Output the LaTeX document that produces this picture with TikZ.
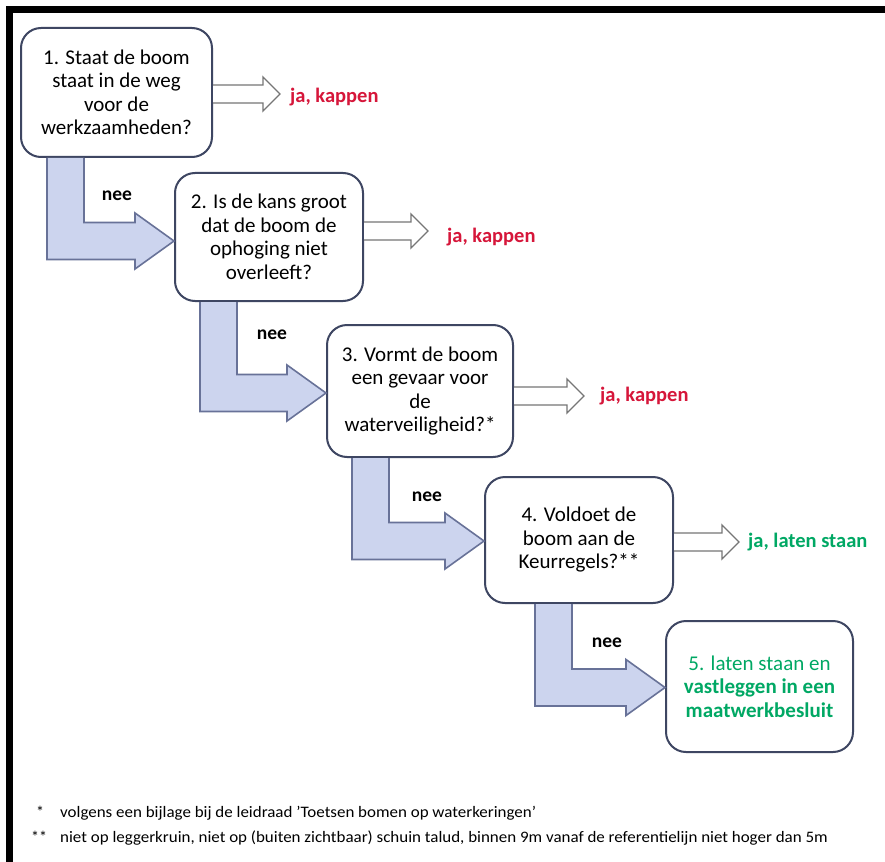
\documentclass[tikz,border=0pt]{standalone}
\usepackage{fontspec}
\setmainfont{Carlito}
\usetikzlibrary{calc}
\definecolor{boxline}{RGB}{62,70,98}
\definecolor{flowfill}{RGB}{204,212,238}
\definecolor{flowline}{RGB}{104,114,152}
\definecolor{hollowline}{RGB}{118,118,118}
\definecolor{kapred}{RGB}{214,22,58}
\definecolor{staangreen}{RGB}{0,168,100}
% hollow "ja" arrow leaving a box at height #2 (downward px), shaft length #3
\newcommand\jaarrow[3]{%
  \draw[hollowarrow] let \p1=(#1.east) in
    (\x1,-#2pt+9pt) -- (\x1+#3pt,-#2pt+9pt) -- (\x1+#3pt,-#2pt+17pt)
    -- (\x1+#3pt+17pt,-#2pt) -- (\x1+#3pt,-#2pt-17pt) -- (\x1+#3pt,-#2pt-9pt)
    -- (\x1,-#2pt-9pt);}
% L-shaped "nee" arrow from box #1 down and right into box #2,
% shaft left edge at x=#3, tip lowered by #4
\newcommand\neearrow[4]{%
  \draw[flowarrow] let \p1=(#1.south), \p2=([yshift=-#4pt]#2.west) in
    (#3pt,\y1) -- (#3pt,\y2-18.5pt) -- (\x2-39pt,\y2-18.5pt) -- (\x2-39pt,\y2-28pt)
    -- (\x2,\y2) -- (\x2-39pt,\y2+28pt) -- (\x2-39pt,\y2+18.5pt)
    -- (#3pt+37pt,\y2+18.5pt) -- (#3pt+37pt,\y1);}
\begin{document}
\begin{tikzpicture}[x=1pt,y=-1pt,
  qbox/.style={draw=boxline, line width=2pt, fill=white, rounded corners=20pt,
    minimum width=188pt, minimum height=129pt, inner sep=0pt, align=center,
    font=\fontsize{21}{23.5}\selectfont},
  hollowarrow/.style={draw=hollowline, line width=1.3pt, fill=white, line join=miter},
  flowarrow/.style={draw=flowline, line width=1.6pt, fill=flowfill, line join=miter},
  jared/.style={anchor=west, text=kapred, font=\fontsize{20.5}{24}\selectfont\bfseries, inner sep=0pt},
  jagreen/.style={anchor=west, text=staangreen, font=\fontsize{20.5}{24}\selectfont\bfseries, inner sep=0pt},
  neelbl/.style={font=\fontsize{19.5}{22}\selectfont\bfseries, inner sep=0pt},
  foot/.style={anchor=west, font=\fontsize{16}{18}\selectfont, inner sep=0pt},
]
\useasboundingbox (0,0) rectangle (885,861);
\clip (0,0) rectangle (885,861);
\fill[white] (0,0) rectangle (885,861);

% frame
\draw[line width=7pt, line join=miter] (9.5,870) -- (9.5,9.5) -- (890,9.5);

% question boxes
\node[qbox, minimum width=191pt] (b1) at (116.5,92.5)
  {1. Staat de boom\\staat in de weg\\voor de\\werkzaamheden?};
\node[qbox, minimum height=128pt] (b2) at (269,237)
  {2. Is de kans groot\\dat de boom de\\ophoging niet\\overleeft?};
\node[qbox, minimum width=186pt, minimum height=132pt] (b3) at (420,391)
  {3. Vormt de boom\\een gevaar voor\\de\\waterveiligheid?*};
\node[qbox, minimum height=126pt] (b4) at (579,540)
  {4. Voldoet de\\boom aan de\\Keurregels?**};
\node[qbox, minimum width=187pt, minimum height=131pt, text=staangreen] (b5) at (759.5,686.5)
  {5. laten staan en\\\textbf{vastleggen in een}\\\textbf{maatwerkbesluit}};

% "ja" outcomes
\jaarrow{b1}{94}{50}
\node[jared] (j1) at (290,97) {ja, kappen};
\jaarrow{b2}{231}{47}
\node[jared] (j2) at (447,237) {ja, kappen};
\jaarrow{b3}{396}{53}
\node[jared] (j3) at (600,396) {ja, kappen};
\jaarrow{b4}{542}{48}
\node[jagreen] (j4) at (748,542) {ja, laten staan};

% "nee" flow
\neearrow{b1}{b2}{47}{4}
\neearrow{b2}{b3}{200}{2}
\neearrow{b3}{b4}{352}{1}
\neearrow{b4}{b5}{535}{1}
\node[neelbl] (n1) at (117,196) {nee};
\node[neelbl] (n2) at (272,335) {nee};
\node[neelbl] (n3) at (427,497) {nee};
\node[neelbl] (n4) at (607,643) {nee};

% footnotes
\node[foot, anchor=center] (s1) at (40,812) {*};
\node[foot, anchor=center] (s2) at (39,837) {**};
\node[foot] (f1) at (60,813) {\scalebox{1.06}[1]{volgens een bijlage bij de leidraad 'Toetsen bomen op waterkeringen'}};
\node[foot] (f2) at (60,838) {\scalebox{1.06}[1]{niet op leggerkruin, niet op (buiten zichtbaar) schuin talud, binnen 9m vanaf de referentielijn niet hoger dan 5m}};
\end{tikzpicture}
\end{document}
